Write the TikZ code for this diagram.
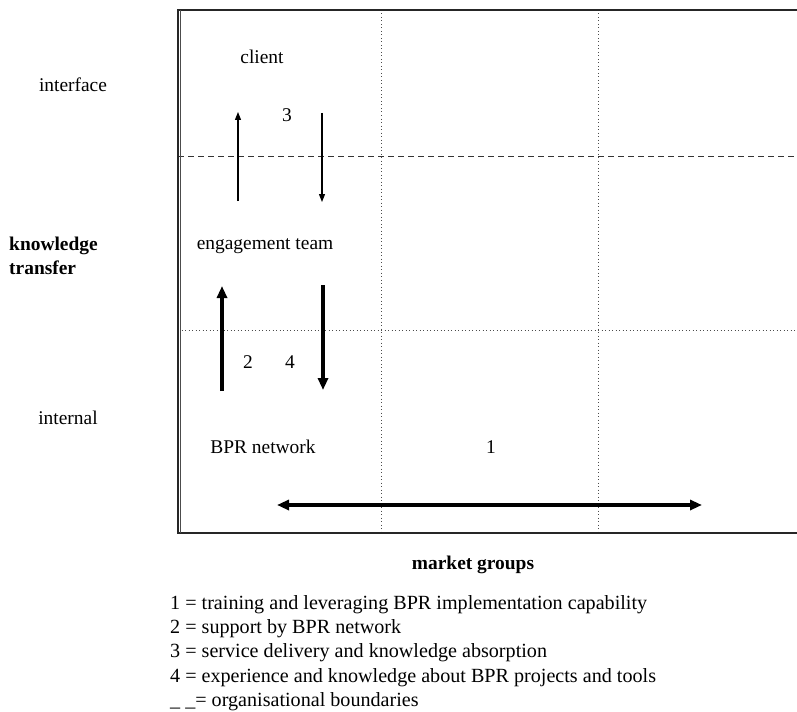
\documentclass[tikz,border=0pt]{standalone}
\usepackage{fontspec}
\setmainfont{Liberation Serif}
\usetikzlibrary{arrows.meta}
\tikzset{
  lbl/.style={inner sep=0pt, font=\fontsize{19.5}{24}\selectfont},
  keylbl/.style={inner sep=0pt, anchor=west, font=\fontsize{20.2}{24}\selectfont},
  boldlbl/.style={lbl, font=\fontsize{19.5}{24}\selectfont\bfseries},
  frameline/.style={line width=1.5bp, black!85},
  orgline/.style={line width=1bp, dash pattern=on 6bp off 4bp, black!80},
  gridline/.style={line width=0.8bp, dash pattern=on 1bp off 2.5bp, black!70},
  thinarrow/.style={line width=1.2bp, -{Triangle[length=8bp,width=6bp]}},
  thickarrow/.style={line width=3.5bp, -{Triangle[length=12bp,width=10bp]}},
  thickboth/.style={line width=3.5bp, {Triangle[length=12bp,width=10bp]}-{Triangle[length=12bp,width=10bp]}}
}
\begin{document}
\begin{tikzpicture}[x=1bp,y=-1bp]
\useasboundingbox[fill=white] (0,0) rectangle (797,712);

% frame (open on the right)
\coordinate (ftl) at (178,10);
\coordinate (ftr) at (797,10);
\coordinate (fbl) at (178,533);
\coordinate (fbr) at (797,533);

% grid lines: market groups (vertical) and levels (horizontal)
\coordinate (v1t) at (381,10);  \coordinate (v1b) at (381,533);
\coordinate (v2t) at (598,10);  \coordinate (v2b) at (598,533);
\coordinate (hdl) at (178,156); \coordinate (hdr) at (797,156);
\coordinate (hol) at (178,330); \coordinate (hor) at (797,330);

\draw[gridline] (v1t) -- (v1b);
\draw[gridline] (v2t) -- (v2b);
\draw[gridline] (hol) -- (hor);
\draw[orgline] (hdl) -- (hdr);
\draw[frameline] (ftr) -- (ftl) -- (fbl) -- (fbr);
\draw[line width=0.6bp, black!70] ([xshift=2.5bp]ftl) -- ([xshift=2.5bp]fbl);

% row labels
\node[lbl] (interface) at (73,85) {interface};
\node[boldlbl, align=left, anchor=west] (kt) at (9,256) {knowledge\\transfer};
\node[lbl] (internal) at (68,418) {internal};

% units
\node[lbl] (client) at (262,57) {client};
\node[lbl] (team) at (265,246) {engagement team};
\node[lbl] (bpr) at (263,447) {BPR network};

% flow numbers
\node[lbl] (n3) at (287,115) {3};
\node[lbl] (n2) at (248,362) {2};
\node[lbl] (n4) at (290,362) {4};
\node[lbl] (n1) at (491,447) {1};

% flows between client and engagement team
\coordinate (a3us) at (238,201); \coordinate (a3ue) at (238,112);
\coordinate (a3ds) at (322,113); \coordinate (a3de) at (322,202);
\draw[thinarrow] (a3us) -- (a3ue);
\draw[thinarrow] (a3ds) -- (a3de);

% flows between engagement team and BPR network
\coordinate (a2s) at (222,391); \coordinate (a2e) at (222,286);
\coordinate (a4s) at (323,285); \coordinate (a4e) at (323,390);
\draw[thickarrow] (a2s) -- (a2e);
\draw[thickarrow] (a4s) -- (a4e);

% flow across market groups
\coordinate (a1l) at (277,505); \coordinate (a1r) at (702,505);
\draw[thickboth] (a1l) -- (a1r);

\node[boldlbl] (mg) at (473,565) {market groups};

% key
\node[keylbl] (k1) at (170,605) {1 = training and leveraging BPR implementation capability};
\node[keylbl] (k2) at (170,629) {2 = support by BPR network};
\node[keylbl] (k3) at (170,653) {3 = service delivery and knowledge absorption};
\node[keylbl] (k4) at (170,678) {4 = experience and knowledge about BPR projects and tools};
\node[keylbl] (k5) at (170,702) {\_ \_= organisational boundaries};
\end{tikzpicture}
\end{document}
